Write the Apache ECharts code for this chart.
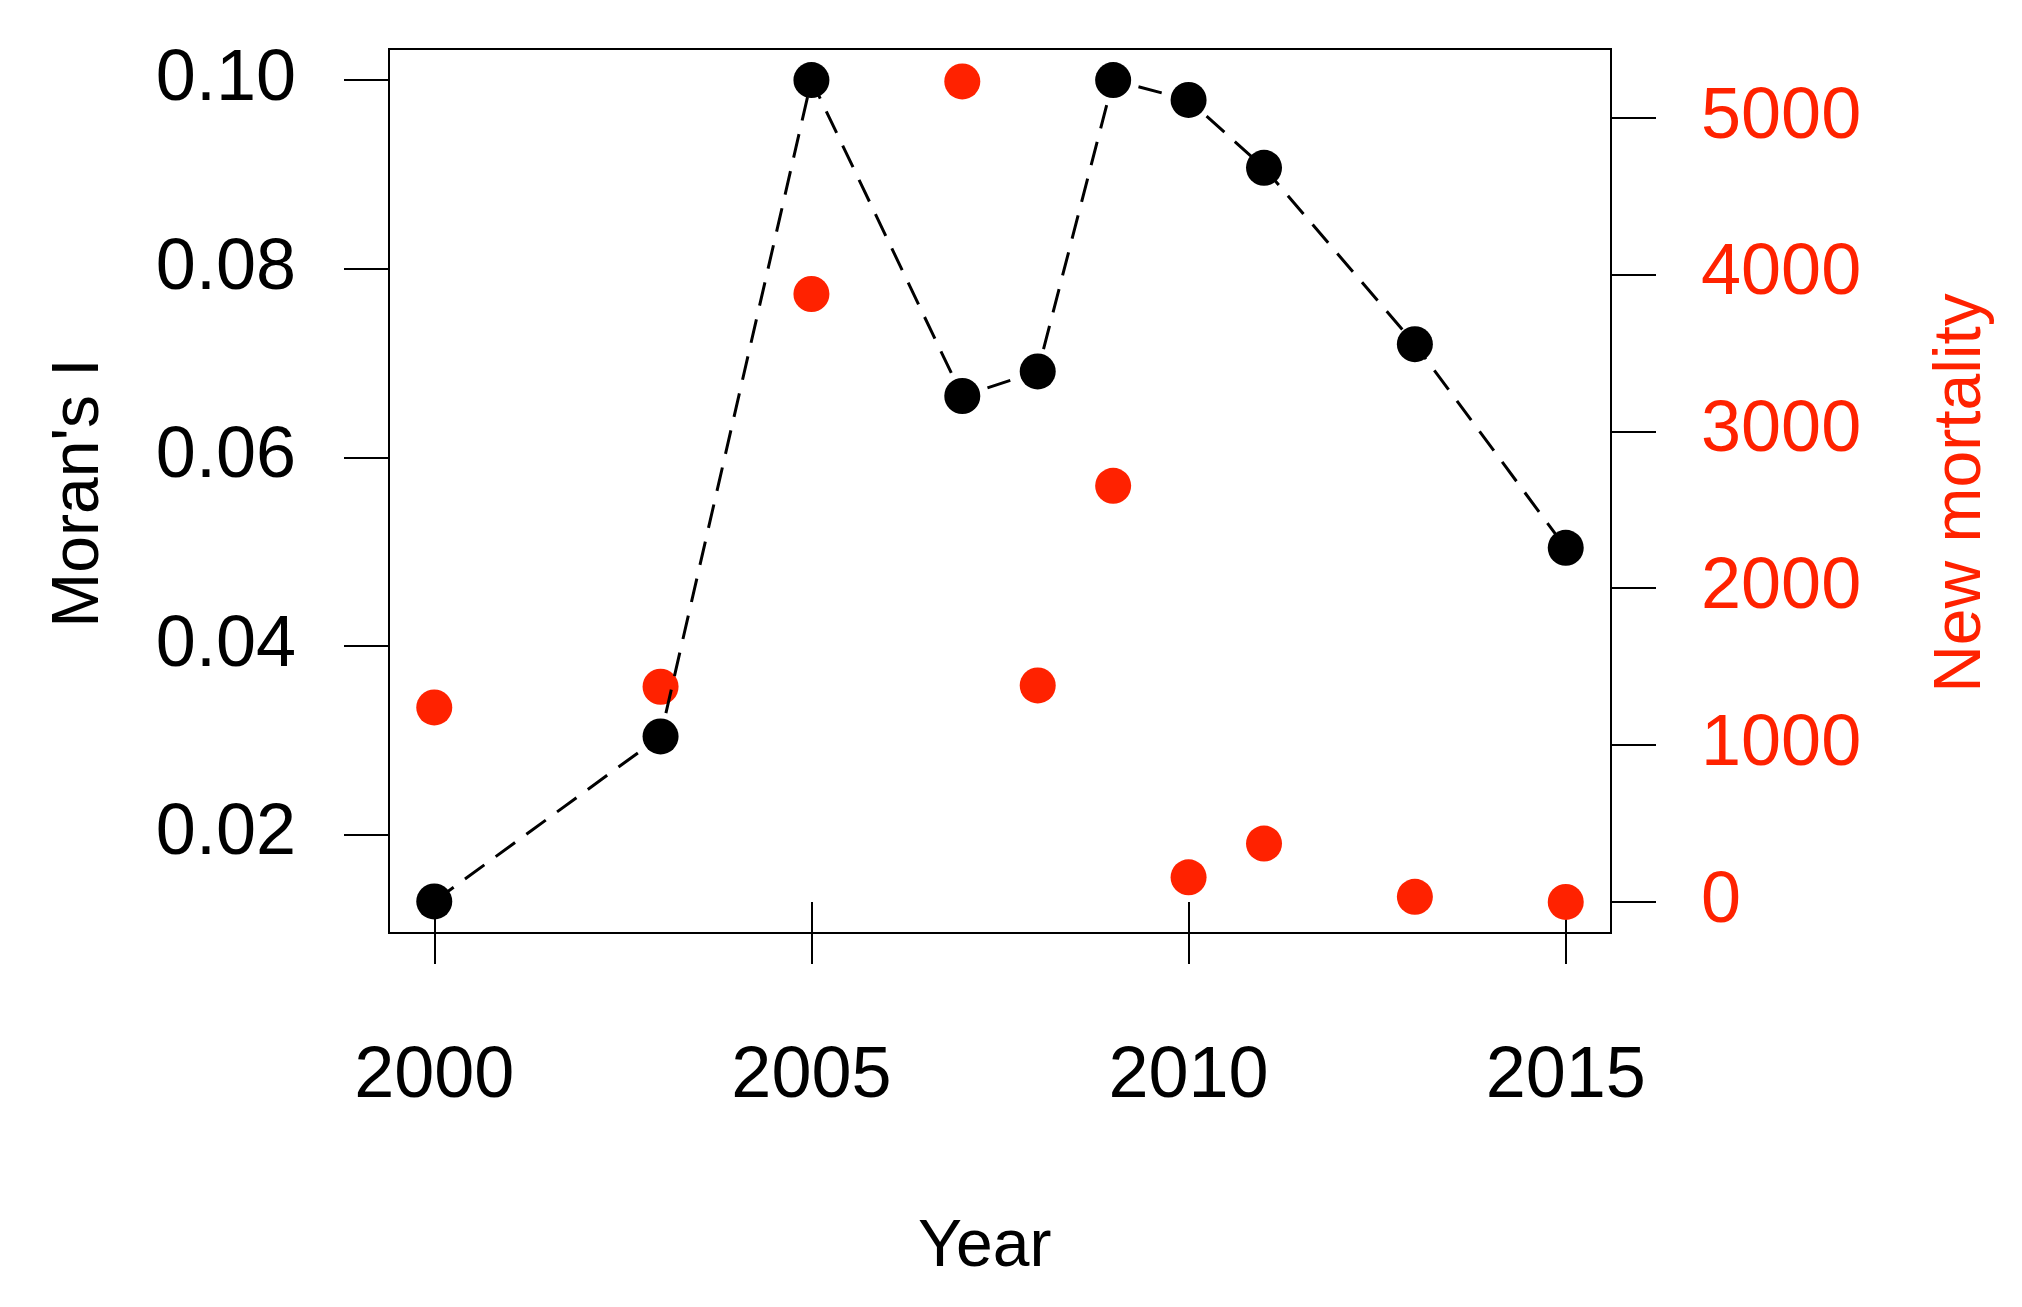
<!DOCTYPE html>
<html>
<head>
    <meta charset="utf-8">
    <title>Moran's I</title>
    <script src="https://cdn.jsdelivr.net/npm/echarts@6/dist/echarts.min.js"></script>
    <style>html,body{margin:0;background:#fff}</style>
</head>
<body>
    <div id="chart" style="width:2022px; height:1307px;"></div>
    <script>
        var years = [2000, 2003, 2005, 2007, 2008, 2009, 2010, 2011, 2013, 2015];
        var moran = [0.0129, 0.0304, 0.1000, 0.0665, 0.0691, 0.1000, 0.0979, 0.0907, 0.0720, 0.0504];
        var mortality = [1240, 1372, 3876, 5231, 1380, 2653, 157, 372, 33, 0];
        var xTicks = [2000, 2005, 2010, 2015];
        var leftTicks = [0.02, 0.04, 0.06, 0.08, 0.10];
        var rightTicks = [0, 1000, 2000, 3000, 4000, 5000];

        var red = '#ff2200';
        var font = 'Liberation Sans';
        var chart = echarts.init(document.getElementById('chart'));
        chart.setOption({
            animation: false,
            grid: {left: 389, right: 411, top: 49, bottom: 374, show: true,
                   borderColor: '#000', borderWidth: 2, backgroundColor: '#fff'},
            xAxis: {
                type: 'value', min: 1999.4, max: 2015.6,
                splitLine: {show: false}, axisLine: {show: false},
                axisTick: {show: true, inside: false, customValues: xTicks, length: 62, lineStyle: {color: '#000', width: 2}},
                axisLabel: {customValues: xTicks, margin: 108, color: '#000', fontSize: 72, fontFamily: font,
                            formatter: function (v) { return String(v); }}
            },
            yAxis: [{
                type: 'value', min: 0.00955, max: 0.1033,
                splitLine: {show: false}, axisLine: {show: false},
                axisTick: {show: true, inside: false, customValues: leftTicks, length: 45, lineStyle: {color: '#000', width: 2}},
                axisLabel: {customValues: leftTicks, margin: 93, color: '#000', fontSize: 72, fontFamily: font,
                            formatter: function (v) { return v.toFixed(2); }}
            }, {
                type: 'value', min: -198, max: 5438, position: 'right',
                splitLine: {show: false}, axisLine: {show: false},
                axisTick: {show: true, inside: false, customValues: rightTicks, length: 45, lineStyle: {color: '#000', width: 2}},
                axisLabel: {customValues: rightTicks, margin: 90, color: red, fontSize: 72, fontFamily: font,
                            formatter: function (v) { return String(v); }}
            }],
            graphic: [
                {type: 'text', left: 998 - 80, top: 1215, style: {text: 'Year', fontSize: 66, fontFamily: font, fill: '#000'}},
                {type: 'text', x: 80, y: 493, rotation: Math.PI / 2,
                 style: {text: "Moran's I", fontSize: 66, fontFamily: font, fill: '#000', align: 'center', verticalAlign: 'middle'}},
                {type: 'text', x: 1962, y: 493, rotation: Math.PI / 2,
                 style: {text: 'New mortality', fontSize: 66, fontFamily: font, fill: red, align: 'center', verticalAlign: 'middle'}}
            ],
            series: [{
                type: 'line', yAxisIndex: 0,
                data: years.map(function (y, i) { return [y, moran[i]]; }),
                symbol: 'circle', symbolSize: 36,
                lineStyle: {color: '#000', width: 3, type: [24, 14]},
                itemStyle: {color: '#000'}
            }, {
                type: 'scatter', yAxisIndex: 1,
                data: years.map(function (y, i) { return [y, mortality[i]]; }),
                symbolSize: 36, itemStyle: {color: red, opacity: 1}
            }]
        });
    </script>
</body>
</html>
